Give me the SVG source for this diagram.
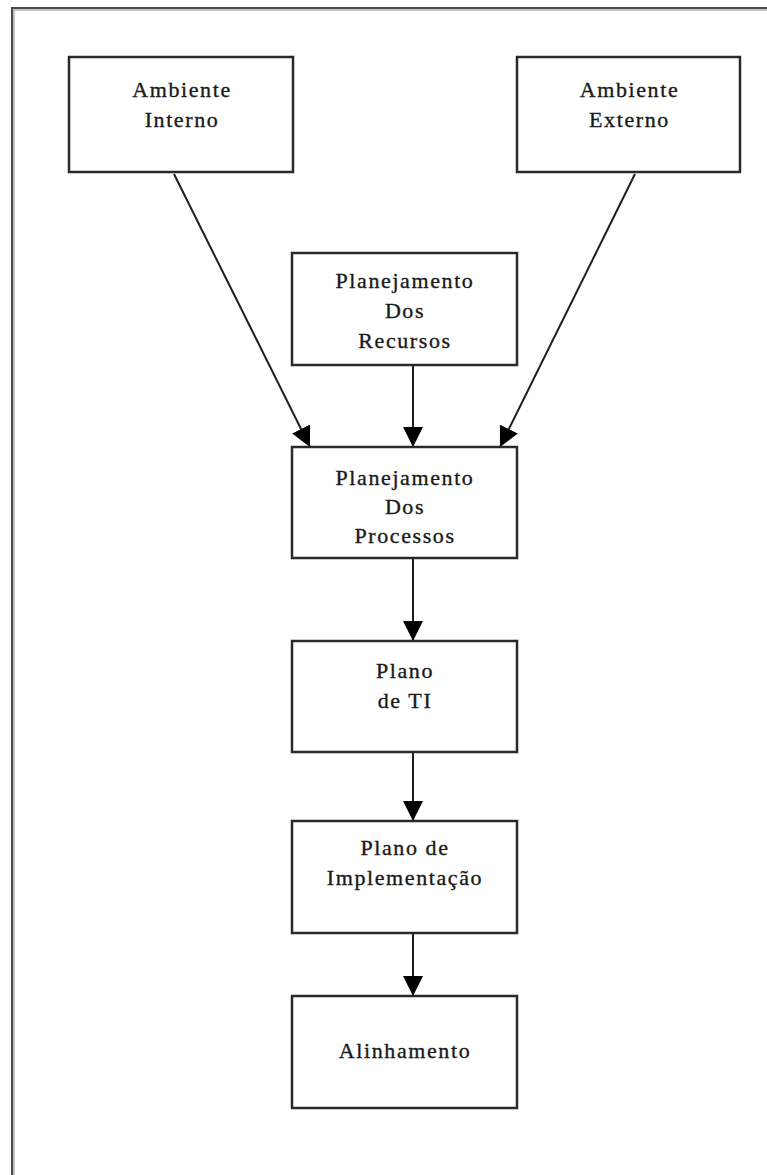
<svg xmlns="http://www.w3.org/2000/svg" width="767" height="1175" viewBox="0 0 767 1175">
  <style>
    .box { fill: #ffffff; stroke: #2a2a2a; stroke-width: 2.5; }
    .lbl { font-family: 'Liberation Serif', 'Times New Roman', serif; font-size: 22px; letter-spacing: 1.6px; fill: #1a1a1a; stroke: #1a1a1a; stroke-width: 0.35px; text-anchor: middle; }
    .edge { stroke: #1e1e1e; stroke-width: 2; fill: none; marker-end: url(#arrow); }
    .frame { stroke: #4a4a4a; stroke-width: 2; fill: none; }
    .frame2 { stroke: #b0b0b0; stroke-width: 1.5; fill: none; }
  </style>
  <defs>
    <marker id="arrow" viewBox="0 0 20 20" refX="20" refY="10" markerWidth="20" markerHeight="20" markerUnits="userSpaceOnUse" orient="auto">
      <path d="M0,0 L20,10 L0,20 z" fill="#000"/>
    </marker>
  </defs>
  <rect width="767" height="1175" fill="#ffffff"/>
  <g id="frame">
    <polyline class="frame" points="12,1175 12,8 767,8"/>
    <polyline class="frame2" points="14,1175 14,10 767,10"/>
  </g>
  <g id="connectors">
    <line class="edge" x1="174" y1="174" x2="310" y2="447"/>
    <line class="edge" x1="635" y1="174" x2="500" y2="447"/>
    <line class="edge" x1="413" y1="366" x2="413" y2="447"/>
    <line class="edge" x1="413" y1="559" x2="413" y2="641"/>
    <line class="edge" x1="413" y1="753" x2="413" y2="821"/>
    <line class="edge" x1="413" y1="933" x2="413" y2="996"/>
  </g>
  <g id="ambiente-interno">
    <rect class="box" x="69" y="57" width="224" height="115"/>
    <text class="lbl" x="182" y="97">Ambiente</text>
    <text class="lbl" x="182" y="127">Interno</text>
  </g>
  <g id="ambiente-externo">
    <rect class="box" x="517" y="57" width="223" height="115"/>
    <text class="lbl" x="629.5" y="97">Ambiente</text>
    <text class="lbl" x="629.5" y="127">Externo</text>
  </g>
  <g id="planejamento-recursos">
    <rect class="box" x="292" y="253" width="225" height="112"/>
    <text class="lbl" x="405" y="288">Planejamento</text>
    <text class="lbl" x="405" y="318">Dos</text>
    <text class="lbl" x="405" y="348">Recursos</text>
  </g>
  <g id="planejamento-processos">
    <rect class="box" x="292" y="447" width="225" height="111"/>
    <text class="lbl" x="405" y="485">Planejamento</text>
    <text class="lbl" x="405" y="514">Dos</text>
    <text class="lbl" x="405" y="543">Processos</text>
  </g>
  <g id="plano-ti">
    <rect class="box" x="292" y="641" width="225" height="111"/>
    <text class="lbl" x="405" y="678">Plano</text>
    <text class="lbl" x="405" y="708">de TI</text>
  </g>
  <g id="plano-implementacao">
    <rect class="box" x="292" y="821" width="225" height="112"/>
    <text class="lbl" x="405" y="855">Plano de</text>
    <text class="lbl" x="405" y="885">Implementação</text>
  </g>
  <g id="alinhamento">
    <rect class="box" x="292" y="996" width="225" height="112"/>
    <text class="lbl" x="405" y="1058">Alinhamento</text>
  </g>
</svg>
